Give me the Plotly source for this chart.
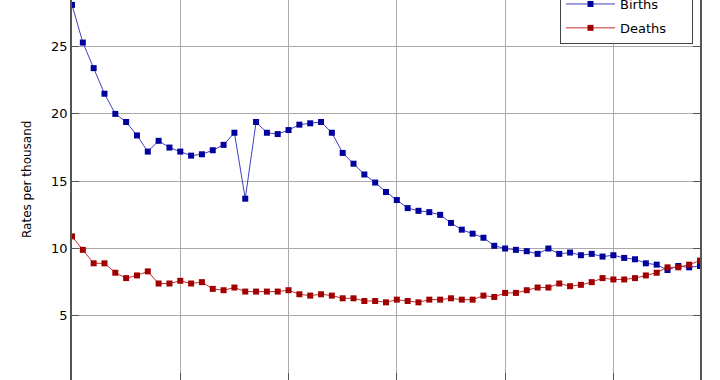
import plotly.graph_objects as go

years = list(range(1950, 2009))
births = [28.1, 25.3, 23.4, 21.5, 20.0, 19.4, 18.4, 17.2, 18.0, 17.5,
          17.2, 16.9, 17.0, 17.3, 17.7, 18.6, 13.7, 19.4, 18.6, 18.5,
          18.8, 19.2, 19.3, 19.4, 18.6, 17.1, 16.3, 15.5, 14.9, 14.2,
          13.6, 13.0, 12.8, 12.7, 12.5, 11.9, 11.4, 11.1, 10.8, 10.2,
          10.0, 9.9, 9.8, 9.6, 10.0, 9.6, 9.7, 9.5, 9.6, 9.4,
          9.5, 9.3, 9.2, 8.9, 8.8, 8.4, 8.7, 8.6, 8.7]
deaths = [10.9, 9.9, 8.9, 8.9, 8.2, 7.8, 8.0, 8.3, 7.4, 7.4,
          7.6, 7.4, 7.5, 7.0, 6.9, 7.1, 6.8, 6.8, 6.8, 6.8,
          6.9, 6.6, 6.5, 6.6, 6.5, 6.3, 6.3, 6.1, 6.1, 6.0,
          6.2, 6.1, 6.0, 6.2, 6.2, 6.3, 6.2, 6.2, 6.5, 6.4,
          6.7, 6.7, 6.9, 7.1, 7.1, 7.4, 7.2, 7.3, 7.5, 7.8,
          7.7, 7.7, 7.8, 8.0, 8.2, 8.6, 8.6, 8.8, 9.1]
series_names = ["Births", "Deaths"]
y_title = "Rates per thousand"

pad = "\u00a0" * 5
fig = go.Figure()
fig.add_trace(go.Scatter(x=years, y=births, name=series_names[0] + pad, mode="lines+markers",
                         legendgroup="b",
                         line=dict(color="#4040c0", width=1),
                         marker=dict(symbol="square", size=6, color="#00009c")))
fig.add_trace(go.Scatter(x=years, y=deaths, name=series_names[1] + pad, mode="lines+markers",
                         legendgroup="d",
                         line=dict(color="#c03030", width=1),
                         marker=dict(symbol="square", size=6, color="#a00000")))

fig.update_layout(
    width=720, height=380,
    margin=dict(l=72, r=20, t=0, b=0, autoexpand=False),
    plot_bgcolor="white", paper_bgcolor="white",
    font=dict(family="DejaVu Sans", size=13, color="black"),
    showlegend=True,
    legend=dict(x=(560 - 72) / 628, y=1 - 44 / 380, xanchor="left", yanchor="bottom",
                bgcolor="white", bordercolor="#444", borderwidth=1,
                font=dict(size=13), itemwidth=49,
                tracegroupgap=4, traceorder="grouped"),
    annotations=[dict(text=y_title, textangle=-90, xref="paper", yref="paper",
                      x=(27 - 72) / 628, y=1 - 180 / 380, xanchor="center", yanchor="middle",
                      showarrow=False, font=dict(size=12))],
)
fig.update_xaxes(range=[1950, 2008], dtick=10, tick0=1950,
                 showgrid=True, gridcolor="#aaaaaa", gridwidth=1,
                 showline=False, zeroline=False, showticklabels=False,
                 ticks="inside", ticklen=7, tickcolor="#555")
fig.update_yaxes(range=[(383.1 - 380) / 13.46, 383.1 / 13.46], dtick=5, tick0=0,
                 showgrid=True, gridcolor="#aaaaaa", gridwidth=1,
                 showline=True, linecolor="#555", linewidth=1.5, mirror="ticks",
                 zeroline=False, ticks="inside", ticklen=7, tickcolor="#555",
                 tickfont=dict(size=13))

fig.write_html("out.html", config={"displayModeBar": False},
               post_script="document.body.style.margin='0';")
